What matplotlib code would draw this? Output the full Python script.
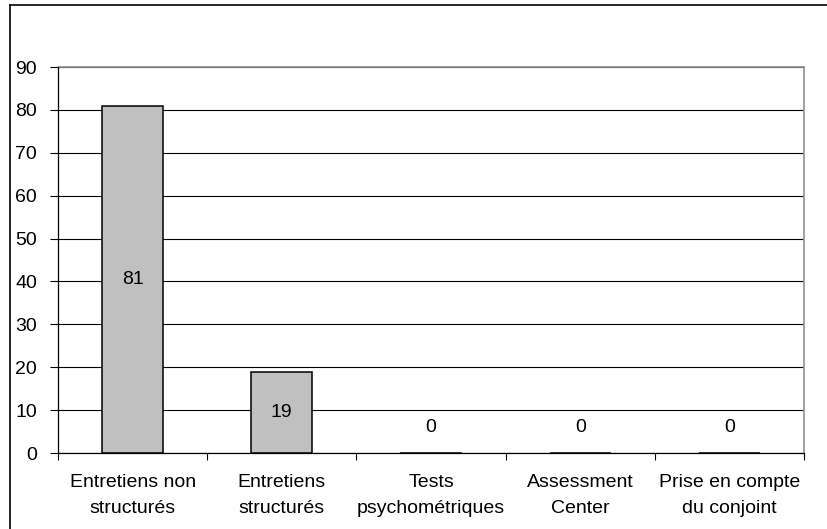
import matplotlib
matplotlib.use('Agg')
import matplotlib.pyplot as plt
from matplotlib.lines import Line2D

plt.rcParams['font.family'] = ['Liberation Sans', 'DejaVu Sans']

# data
categories = ['Entretiens non\nstructurés', 'Entretiens\nstructurés', 'Tests\npsychométriques',
              'Assessment\nCenter', 'Prise en compte\ndu conjoint']
values = [81, 19, 0, 0, 0]
yticks = [0, 10, 20, 30, 40, 50, 60, 70, 80, 90]

fig = plt.figure(figsize=(8.27, 5.29), dpi=100)
ax = fig.add_axes([58 / 827, 76 / 529, 746 / 827, 386 / 529])

x = list(range(len(categories)))
ax.bar(x, values, width=0.41, color='#C0C0C0', edgecolor='black', linewidth=1.1, zorder=2)

# value labels in the middle of the bars (zero bars get a small lift)
for xi, v in zip(x, values):
    if v > 0:
        ax.text(xi, v / 2, str(v), ha='center', va='center', fontsize=14, zorder=4)
    else:
        ax.annotate(str(v), (xi, 0), xytext=(0, 26), textcoords='offset pixels',
                    ha='center', va='center', fontsize=14)

ax.set_xlim(-0.5, len(categories) - 0.5)
ax.set_ylim(0, 90)
ax.set_yticks(yticks)
ax.yaxis.grid(True, color='black', linewidth=0.8, zorder=0)
ax.set_axisbelow(True)

ax.set_xticks(x)
ax.set_xticklabels(categories, fontsize=14, linespacing=1.73)
ax.set_xticks([i + 0.5 for i in range(-1, len(categories))], minor=True)
ax.tick_params(axis='x', which='major', length=0, pad=15)
ax.tick_params(axis='x', which='minor', length=5, width=0.8, direction='out')
ax.tick_params(axis='y', labelsize=14, length=6, width=0.8, pad=9)

for side in ['top', 'right']:
    ax.spines[side].set_color('#909090')
    ax.spines[side].set_linewidth(1.2)
for side in ['left', 'bottom']:
    ax.spines[side].set_color('black')
    ax.spines[side].set_linewidth(0.9)
    ax.spines[side].set_zorder(3)

# outer chart frame (only top and left edges are inside the image)
fig.add_artist(Line2D([10 / 827, 1], [1 - 5 / 529, 1 - 5 / 529], color='black', linewidth=1.2))
fig.add_artist(Line2D([10 / 827, 10 / 827], [0, 1 - 5 / 529], color='black', linewidth=1.2))

fig.savefig('out.png', dpi=100)
